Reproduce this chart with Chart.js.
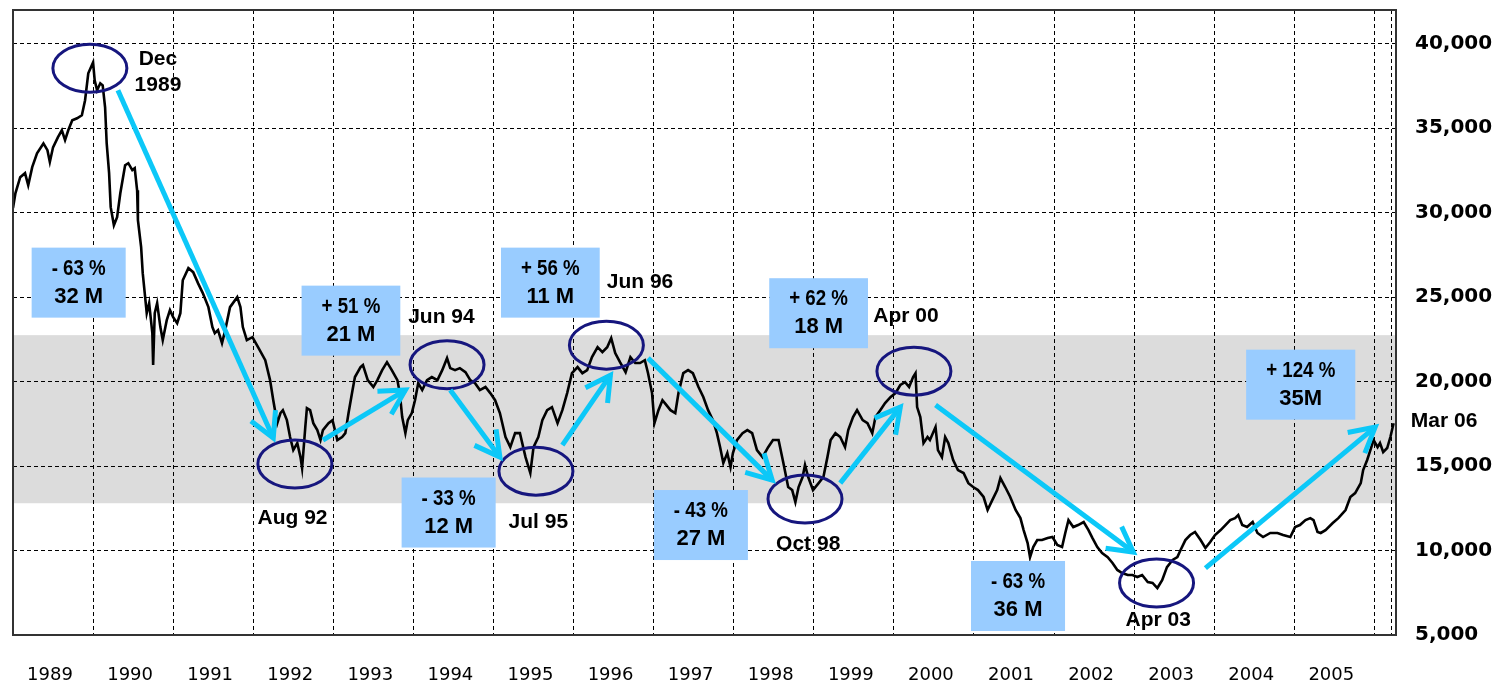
<!DOCTYPE html>
<html>
<head>
<meta charset="utf-8">
<title>Nikkei 225 1989 - 2006</title>
<script src="https://cdn.jsdelivr.net/npm/chart.js@4.4.1/dist/chart.umd.min.js"></script>
<style>
    html, body { margin: 0; padding: 0; background: #fff; }
    #wrap { width: 1501px; height: 685px; position: relative; }
</style>
</head>
<body>
<div id="wrap"><canvas id="nikkeiChart"></canvas></div>
<script>
// Index level, sampled about twice a month (decimal year -> close)
const dates = [
    1989.00, 1989.03, 1989.09, 1989.15, 1989.19, 1989.24, 1989.30, 1989.38, 1989.43, 1989.46,
    1989.50, 1989.56, 1989.61, 1989.65, 1989.69, 1989.74, 1989.80, 1989.86, 1989.90, 1989.94,
    1990.00, 1990.02, 1990.05, 1990.09, 1990.12, 1990.15, 1990.17, 1990.20, 1990.22, 1990.26,
    1990.30, 1990.34, 1990.40, 1990.44, 1990.49, 1990.52, 1990.55, 1990.56, 1990.60, 1990.62,
    1990.65, 1990.67, 1990.70, 1990.74, 1990.75, 1990.77, 1990.80, 1990.84, 1990.87, 1990.92,
    1990.96,
    1991.00, 1991.05, 1991.09, 1991.12, 1991.19, 1991.25, 1991.31, 1991.37, 1991.44, 1991.49,
    1991.52, 1991.56, 1991.61, 1991.65, 1991.71, 1991.80, 1991.84, 1991.87, 1991.92, 1991.99,
    1992.06, 1992.15, 1992.21, 1992.25, 1992.30, 1992.34, 1992.37, 1992.42, 1992.46, 1992.50,
    1992.55, 1992.59, 1992.61, 1992.65, 1992.67, 1992.71, 1992.75, 1992.80, 1992.84, 1992.87,
    1992.94, 1992.99,
    1993.05, 1993.11, 1993.15, 1993.19, 1993.24, 1993.27, 1993.34, 1993.37, 1993.43, 1993.50,
    1993.55, 1993.61, 1993.67, 1993.73, 1993.80, 1993.83, 1993.86, 1993.90, 1993.93, 1993.98,
    1994.02, 1994.06, 1994.11, 1994.17, 1994.23, 1994.30, 1994.36, 1994.42, 1994.46, 1994.52,
    1994.58, 1994.65, 1994.71, 1994.77, 1994.83, 1994.90, 1994.96,
    1995.02, 1995.08, 1995.15, 1995.21, 1995.27, 1995.33, 1995.40, 1995.46, 1995.50, 1995.56,
    1995.61, 1995.67, 1995.73, 1995.80, 1995.86, 1995.92, 1995.98,
    1996.05, 1996.11, 1996.17, 1996.23, 1996.30, 1996.36, 1996.42, 1996.47, 1996.52, 1996.58,
    1996.65, 1996.71, 1996.77, 1996.83, 1996.89, 1996.93, 1996.98,
    1997.01, 1997.06, 1997.11, 1997.14, 1997.21, 1997.27, 1997.31, 1997.37, 1997.43, 1997.49,
    1997.56, 1997.62, 1997.68, 1997.74, 1997.79, 1997.83, 1997.87, 1997.92, 1997.96, 1997.99,
    1998.04, 1998.11, 1998.17, 1998.23, 1998.29, 1998.36, 1998.43, 1998.49, 1998.56, 1998.62,
    1998.68, 1998.73, 1998.77, 1998.81, 1998.86, 1998.89, 1998.93, 1998.99,
    1999.06, 1999.12, 1999.17, 1999.21, 1999.27, 1999.33, 1999.39, 1999.43, 1999.49, 1999.54,
    1999.61, 1999.67, 1999.73, 1999.77, 1999.83, 1999.89, 1999.96,
    2000.02, 2000.08, 2000.14, 2000.19, 2000.24, 2000.27, 2000.29, 2000.33, 2000.37, 2000.42,
    2000.45, 2000.52, 2000.55, 2000.60, 2000.64, 2000.68, 2000.74, 2000.80, 2000.87, 2000.93,
    2000.99,
    2001.05, 2001.12, 2001.17, 2001.23, 2001.29, 2001.33, 2001.39, 2001.45, 2001.52, 2001.58,
    2001.62, 2001.67, 2001.70, 2001.74, 2001.79, 2001.85, 2001.92, 2001.98,
    2002.04, 2002.10, 2002.14, 2002.18, 2002.24, 2002.30, 2002.37, 2002.43, 2002.48, 2002.54,
    2002.60, 2002.67, 2002.73, 2002.79, 2002.85, 2002.92, 2002.98,
    2003.04, 2003.10, 2003.17, 2003.23, 2003.29, 2003.35, 2003.41, 2003.48, 2003.54, 2003.58,
    2003.64, 2003.70, 2003.76, 2003.83, 2003.89, 2003.95,
    2004.01, 2004.08, 2004.14, 2004.20, 2004.26, 2004.30, 2004.35, 2004.41, 2004.48, 2004.54,
    2004.61, 2004.70, 2004.79, 2004.86, 2004.95,
    2005.01, 2005.07, 2005.14, 2005.20, 2005.24, 2005.29, 2005.33, 2005.39, 2005.48, 2005.55,
    2005.64, 2005.70, 2005.76, 2005.83, 2005.86, 2005.91, 2005.95, 2005.99,
    2006.04, 2006.07, 2006.11, 2006.16, 2006.20, 2006.24
];

const closes = [
    30270, 31150, 32100, 32340, 31630, 32700, 33520, 34100, 33700, 33000,
    33870, 34460, 34880, 34300, 34880, 35470, 35590, 35770, 36660, 38250,
    38900, 37840, 37250, 37660, 37540, 36240, 34100, 32340, 30330, 29260,
    29730, 31150, 32810, 32930, 32520, 32630, 31330, 29560, 27960, 26420,
    25000, 24050, 24650, 22870, 20980, 24050, 24650, 23230, 22460, 23640,
    24230,
    23820, 23460, 24050, 26000, 26720, 26480, 25830, 25240, 24410, 23230,
    22870, 23050, 22280, 23050, 24410, 25000, 24410, 23230, 22460, 22630,
    22040, 21270, 20090, 18900, 17540, 18140, 18310, 17720, 16720, 15950,
    16360, 15530, 14880, 17310, 18430, 18310, 17540, 17130, 16540, 17130,
    17540, 17720,
    16540, 16720, 16950, 18140, 19500, 20270, 20860, 20980, 20090, 19680,
    20090, 20680, 21150, 20680, 20090, 19320, 17900, 16950, 17720, 18140,
    18900, 19910, 19500, 20090, 20270, 20090, 20680, 21390, 20800, 20680,
    20800, 20560, 20090, 19910, 19500, 19680, 19320,
    18900, 18140, 16720, 16120, 16950, 16950, 15530, 14590, 16120, 16720,
    17720, 18310, 18490, 17540, 18310, 19320, 20500,
    20860, 20500, 20680, 21450, 22040, 21750, 22040, 22570, 21690, 21150,
    20560, 21450, 21100, 21100, 21270, 20500, 19320,
    17540, 18310, 18900, 18730, 18310, 18140, 19320, 20500, 20680, 20500,
    19680, 19090, 18310, 17720, 16950, 16120, 15180, 15770, 14940, 15770,
    16540, 16950, 17130, 16950, 15950, 15530, 16120, 16540, 16540, 15180,
    13760, 13580, 12870, 13760, 14350, 15060, 14350, 13580,
    13990, 14350, 15530, 16540, 16950, 16720, 16120, 17130, 17900, 18310,
    17720, 17540, 16950, 17900, 18310, 18730, 19090,
    19320, 19800, 19970, 19680, 20270, 20500, 18490, 17900, 16360, 16720,
    16540, 17310, 15950, 15530, 16720, 16360, 15360, 14760, 14590, 13990,
    13760,
    13580, 13170, 12400, 13000, 13580, 14290, 13760, 13200, 12400, 11920,
    11210, 10440, 9610, 10210, 10620, 10620, 10740, 10800,
    10330, 10210, 11040, 11800, 11390, 11510, 11690, 11210, 10740, 10210,
    9850, 9610, 9260, 8850, 8670, 8550, 8550,
    8430, 8550, 8140, 8080, 7780, 8250, 9020, 9440, 9610, 10030,
    10620, 10920, 11100, 10620, 10150, 10500,
    10920, 11210, 11510, 11800, 11920, 12100, 11510, 11390, 11690, 11040,
    10800, 11040, 11040, 10920, 10800,
    11390, 11510, 11800, 11920, 11800, 11100, 11040, 11210, 11630, 11920,
    12400, 13170, 13400, 13990, 14760, 15360, 15950, 16540,
    16120, 16360, 15830, 16070, 16720, 17540
];

const yearLabels = ['1989', '1990', '1991', '1992', '1993', '1994', '1995', '1996', '1997',
    '1998', '1999', '2000', '2001', '2002', '2003', '2004', '2005'];
const yTicks = [5000, 10000, 15000, 20000, 25000, 30000, 35000, 40000];

// shaded trading range
const bandRange = [12800, 22750];

// circled turning points [date, level]
const circleAt = [
    [1989.96, 38550], [1992.52, 15120], [1994.42, 21000], [1995.53, 14700],
    [1996.41, 22160], [1998.89, 13050], [2000.25, 20620], [2003.28, 8080]
];
const turnLabels = [['Dec', '1989'], ['Aug 92'], ['Jun 94'], ['Jul 95'], ['Jun 96'],
    ['Oct 98'], ['Apr 00'], ['Apr 03'], ['Mar 06']];
const turnLabelAt = [
    [1990.81, 38310], [1992.49, 11920], [1994.35, 23820], [1995.56, 11690], [1996.83, 25890],
    [1998.93, 10380], [2000.15, 23880], [2003.30, 5890], [2006.87, 17660]
];

// moves between turning points: arrow start/end and the callout box
const moveFrom = [
    [1990.31, 37250], [1992.87, 16540], [1994.46, 19500], [1995.86, 16240],
    [1996.93, 21390], [1999.33, 13990], [2000.52, 18610], [2003.89, 8960]
];
const moveTo = [
    [1992.25, 16660], [1993.90, 19500], [1995.08, 15530], [1996.46, 20380],
    [1998.48, 14170], [2000.08, 18490], [2002.99, 9910], [2006.01, 17310]
];
const moveText = [
    ['- 63 %', '32 M'], ['+ 51 %', '21 M'], ['- 33 %', '12 M'], ['+ 56 %', '11 M'],
    ['- 43 %', '27 M'], ['+ 62 %', '18 M'], ['- 63 %', '36 M'], ['+ 124 %', '35M']
];
const moveBoxAt = [
    [1989.82, 25860], [1993.22, 23610], [1994.44, 12250], [1995.71, 25860],
    [1997.59, 11510], [1999.06, 24050], [2001.55, 7310], [2005.08, 19820]
];

const LABEL_FONT = 'bold 21px "Liberation Sans", Arial, sans-serif';
const BOX_FONT = 'bold 22px "Liberation Sans", Arial, sans-serif';

function drawArrow(ctx, x1, y1, x2, y2) {
    const ang = Math.atan2(y2 - y1, x2 - x1);
    const head = 28, spread = 0.5;
    ctx.beginPath();
    ctx.moveTo(x1, y1);
    ctx.lineTo(x2, y2);
    ctx.stroke();
    ctx.beginPath();
    ctx.moveTo(x2 - head * Math.cos(ang - spread), y2 - head * Math.sin(ang - spread));
    ctx.lineTo(x2, y2);
    ctx.lineTo(x2 - head * Math.cos(ang + spread), y2 - head * Math.sin(ang + spread));
    ctx.stroke();
}

// grey band behind the grid
const bandPlugin = {
    id: 'band',
    beforeDraw(chart) {
        const { ctx, chartArea: a, scales: { y } } = chart;
        const top = y.getPixelForValue(bandRange[1]);
        const bottom = y.getPixelForValue(bandRange[0]);
        ctx.save();
        ctx.fillStyle = '#dcdcdc';
        ctx.fillRect(a.left, top, a.right - a.left, bottom - top);
        ctx.restore();
    }
};

// circles, arrows, callouts and the frame
const notesPlugin = {
    id: 'notes',
    afterDatasetsDraw(chart) {
        const { ctx, chartArea: a, scales: { x, y } } = chart;
        const px = p => [x.getPixelForValue(p[0]), y.getPixelForValue(p[1])];
        ctx.save();

        ctx.strokeStyle = '#16167e';
        ctx.lineWidth = 3;
        circleAt.forEach(p => {
            const [cx, cy] = px(p);
            ctx.beginPath();
            ctx.ellipse(cx, cy, 37, 24, 0, 0, Math.PI * 2);
            ctx.stroke();
        });

        ctx.strokeStyle = '#0cc8f8';
        ctx.lineWidth = 5;
        ctx.lineJoin = 'miter';
        moveFrom.forEach((p, i) => {
            const [x1, y1] = px(p);
            const [x2, y2] = px(moveTo[i]);
            drawArrow(ctx, x1, y1, x2, y2);
        });

        // percentage line is set narrower than the size line
        ctx.font = BOX_FONT;
        ctx.textAlign = 'center';
        ctx.textBaseline = 'middle';
        const squeeze = [0.85, 1];
        moveBoxAt.forEach((p, i) => {
            const [cx, cy] = px(p);
            const lines = moveText[i];
            const w = Math.max(...lines.map((t, k) => ctx.measureText(t).width * squeeze[k])) + 40;
            const h = 70;
            ctx.fillStyle = '#99ccff';
            ctx.fillRect(cx - w / 2, cy - h / 2, w, h);
            ctx.fillStyle = '#000';
            lines.forEach((t, k) => {
                ctx.save();
                ctx.translate(cx, cy + (k === 0 ? -14 : 14));
                ctx.scale(squeeze[k], 1);
                ctx.fillText(t, 0, 0);
                ctx.restore();
            });
        });

        ctx.font = LABEL_FONT;
        ctx.fillStyle = '#000';
        turnLabelAt.forEach((p, i) => {
            const [cx, cy] = px(p);
            const lines = turnLabels[i];
            const start = cy - (lines.length - 1) * 13;
            lines.forEach((t, k) => ctx.fillText(t, cx, start + k * 26));
        });

        ctx.strokeStyle = '#333';
        ctx.lineWidth = 2;
        ctx.strokeRect(a.left, a.top, a.right - a.left, a.bottom - a.top);
        ctx.restore();
    }
};

const ctx = document.getElementById('nikkeiChart').getContext('2d');
const chart = new Chart(ctx, {
    type: 'line',
    data: {
        datasets: [{
            label: 'Nikkei 225',
            data: dates.map((d, i) => ({ x: d, y: closes[i] })),
            borderColor: '#000',
            borderWidth: 2.6,
            pointRadius: 0,
            tension: 0,
            fill: false
        }]
    },
    options: {
        responsive: true,
        maintainAspectRatio: false,
        animation: false,
        layout: { padding: { left: 13, top: 10, right: 0, bottom: 0 } },
        plugins: {
            legend: { display: false },
            tooltip: { enabled: false }
        },
        scales: {
            x: {
                type: 'linear',
                min: 1989,
                max: 2006.27,
                afterBuildTicks: scale => {
                    const t = yearLabels.map((_, i) => ({ value: 1989 + i }));
                    t.push({ value: 2006 }, { value: 2006.22 });
                    scale.ticks = t;
                },
                afterFit: scale => {
                    scale.height = 50;
                    scale.paddingLeft = 0;
                    scale.paddingRight = 0;
                },
                grid: { color: '#000', lineWidth: 1, drawTicks: false },
                border: { display: false, dash: [4, 3] },
                ticks: {
                    autoSkip: false,
                    maxRotation: 0,
                    labelOffset: 37,
                    padding: 30,
                    color: '#000',
                    font: { family: 'DejaVu Sans', size: 18 },
                    callback: v => (Number.isInteger(v) && yearLabels[v - 1989]) || ''
                }
            },
            y: {
                position: 'right',
                min: 5000,
                max: 42000,
                afterBuildTicks: scale => {
                    scale.ticks = yTicks.map(v => ({ value: v }));
                },
                afterFit: scale => {
                    scale.width = 105;
                    scale.paddingTop = 0;
                    scale.paddingBottom = 0;
                },
                grid: { color: '#000', lineWidth: 1, drawTicks: false },
                border: { display: false, dash: [4, 3] },
                ticks: {
                    padding: 19,
                    color: '#000',
                    font: { family: 'DejaVu Sans', size: 20, weight: 'bold' },
                    callback: v => v.toLocaleString('en-US')
                }
            }
        }
    },
    plugins: [bandPlugin, notesPlugin]
});
</script>
</body>
</html>
